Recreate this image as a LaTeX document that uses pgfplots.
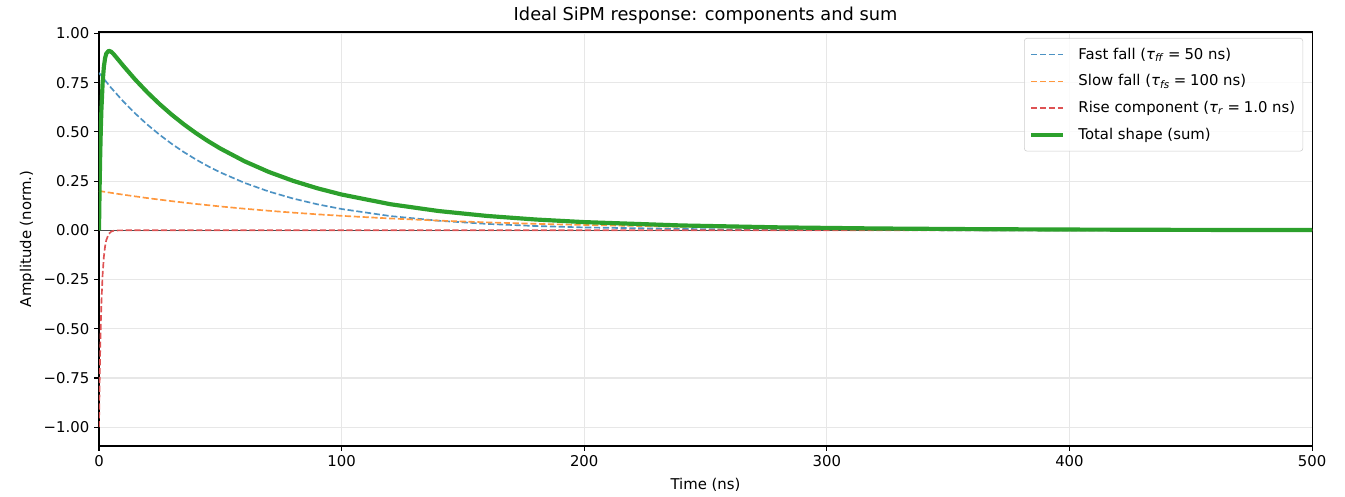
\documentclass[border=0pt]{standalone}
\usepackage{fontspec}
\setmainfont{DejaVu Sans}
\usepackage{pgfplots}
\pgfplotsset{compat=1.18}
\definecolor{tabblue}{HTML}{1F77B4}
\definecolor{taborange}{HTML}{FF7F0E}
\definecolor{tabred}{HTML}{D62728}
\definecolor{tabgreen}{HTML}{2CA02C}
\definecolor{gridgray}{HTML}{E7E7E7}
\definecolor{legendgray}{HTML}{CCCCCC}
\colorlet{cblue}{tabblue!80!white}
\colorlet{corange}{taborange!80!white}
\colorlet{cred}{tabred!80!white}
\colorlet{zerol}{black!70!white}
\begin{document}
\begin{tikzpicture}
\begin{axis}[
  at={(0pt,0pt)}, anchor=south west,
  scale only axis, width=873.4pt, height=298.1pt,
  xmin=0, xmax=500, ymin=-1.0956, ymax=1.0076,
  xtick={0,100,200,300,400,500},
  xticklabels={0,100,200,300,400,500},
  ytick={-1,-0.75,-0.5,-0.25,0,0.25,0.5,0.75,1},
  yticklabels={−1.00,−0.75,−0.50,−0.25,0.00,0.25,0.50,0.75,1.00},
  ticklabel style={font=\fontsize{10.7}{12.8}\selectfont},
  grid=major, grid style={line width=0.8pt, color=gridgray},
  axis line style={line width=0.8pt},
  tick style={line width=0.8pt, black},
  tick align=outside, major tick length=3.5pt,
  xtick pos=bottom, ytick pos=left,
  xlabel={Time (ns)}, ylabel={Amplitude (norm.)},
  label style={font=\fontsize{10.7}{12.8}\selectfont},
  xlabel style={yshift=-1.5pt},
  title={Ideal SiPM response: components and sum},
  title style={font=\fontsize{12.8}{15}\selectfont, yshift=-4pt},
  legend cell align=left,
  legend image code/.code={\draw[#1] (0pt,0pt) -- (23pt,0pt);},
  legend style={at={(0.9926,0.9855)}, anchor=north east, draw=legendgray, fill=white, fill opacity=0.8, text opacity=1, rounded corners=2pt, font=\fontsize{10.7}{12.8}\selectfont, row sep=5.6pt, column sep=7.5pt, inner xsep=3.5pt, inner ysep=5pt},
]
\addplot[cblue, line width=1.2pt, dash pattern=on 4.44pt off 1.92pt] coordinates {
(0,0.8) (5,0.72387) (10,0.65498) (15,0.59265) (20,0.53626) (25,0.48522) (30,0.43905) (35,0.39727) (40,0.35946) (45,0.32526) (50,0.29430) (60,0.24096) (70,0.19728) (80,0.16152) (90,0.13224) (100,0.10827) (120,0.07257) (140,0.04865) (160,0.03261) (180,0.02186) (200,0.01465) (250,0.00539) (300,0.00198) (350,0.00073) (400,0.00027) (500,0.00004)};
\addlegendentry{Fast fall (\textit{τ}\textsubscript{\textit{ff}}\hspace{0.26em}=\hspace{0.26em}50 ns)}
\addplot[corange, line width=1.2pt, dash pattern=on 4.44pt off 1.92pt] coordinates {
(0,0.2) (10,0.18097) (20,0.16375) (30,0.14816) (40,0.13406) (50,0.12131) (60,0.10976) (70,0.09932) (80,0.08987) (90,0.08131) (100,0.07358) (120,0.06024) (140,0.04932) (160,0.04038) (180,0.03306) (200,0.02707) (240,0.01814) (280,0.01216) (320,0.00815) (360,0.00546) (400,0.00366) (450,0.00222) (500,0.00135)};
\addlegendentry{Slow fall (\textit{τ}\textsubscript{\textit{fs}}\hspace{0.26em}=\hspace{0.26em}100 ns)}
\addplot[forget plot, zerol, line width=0.8pt] coordinates {(0,0) (500,0)};
\addplot[cred, line width=1.2pt, dash pattern=on 4.44pt off 1.92pt] coordinates {
(0,-1) (0.25,-0.7788) (0.5,-0.6065) (0.75,-0.4724) (1,-0.3679) (1.5,-0.2231) (2,-0.1353) (2.5,-0.0821) (3,-0.0498) (4,-0.0183) (5,-0.0067) (6,-0.0025) (8,-0.0003) (10,0) (500,0)};
\addlegendentry{Rise component (\textit{τ}\textsubscript{\textit{r}}\hspace{0.26em}=\hspace{0.26em}1.0 ns)}
\addplot[tabgreen, line width=3pt, line join=round] coordinates {
(0,0) (0.25,0.21671) (0.5,0.38451) (0.75,0.51423) (1,0.61429) (1.5,0.75025) (2,0.82933) (2.5,0.87396) (3,0.89771) (4,0.91233) (5,0.90738) (6,0.89541) (8,0.86600) (10,0.83590) (15,0.76479) (20,0.70001) (25,0.64098) (30,0.58721) (35,0.53821) (40,0.49352) (45,0.45279) (50,0.41561) (60,0.35072) (70,0.29660) (80,0.25139) (90,0.21355) (100,0.18185) (120,0.13281) (140,0.09797) (160,0.07299) (180,0.05492) (200,0.04172) (240,0.02472) (280,0.01512) (320,0.00948) (360,0.00606) (400,0.00393) (450,0.00223) (500,0.00139)};
\addlegendentry{Total shape (sum)}
\end{axis}
\pgfresetboundingbox
\path[use as bounding box] (-71.28pt,-36pt) rectangle (897.12pt,321.12pt);
\end{tikzpicture}
\end{document}
